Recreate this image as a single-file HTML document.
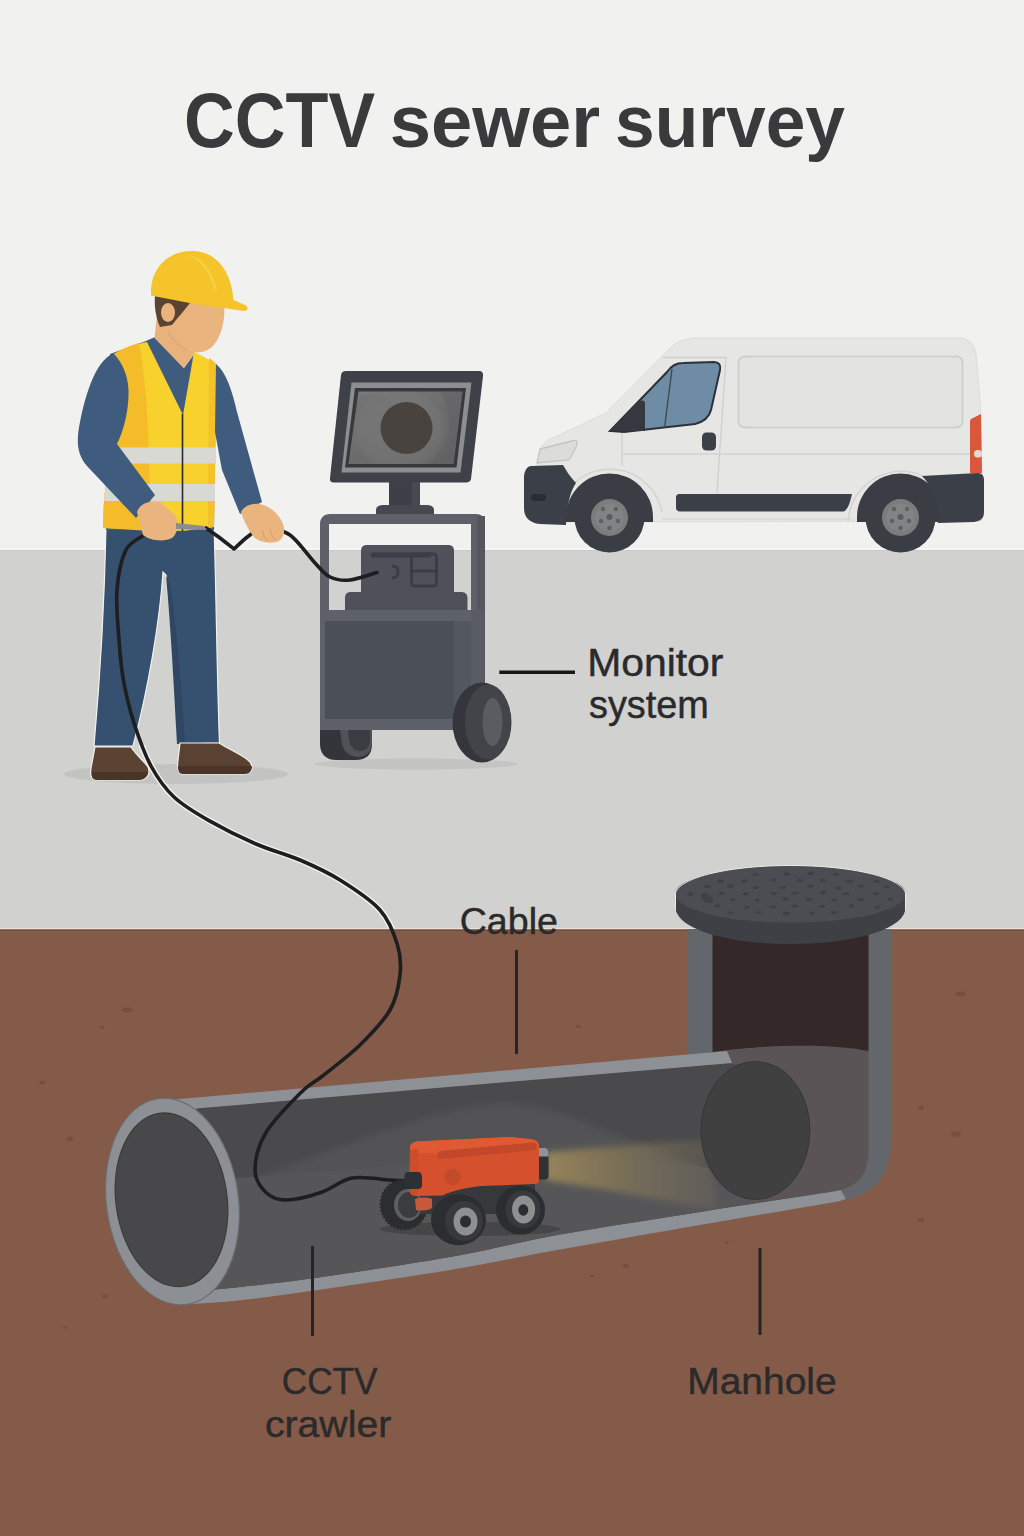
<!DOCTYPE html>
<html><head><meta charset="utf-8">
<title>CCTV sewer survey</title>
<style>
html,body{margin:0;padding:0;width:1024px;height:1536px;overflow:hidden;background:#f1f1f0;}
svg{display:block;}
text{font-family:"Liberation Sans",sans-serif;}
</style></head><body>
<svg width="1024" height="1536" viewBox="0 0 1024 1536">
<defs>
<filter id="blur4" x="-20%" y="-50%" width="140%" height="200%"><feGaussianBlur stdDeviation="4"/></filter>
<filter id="blur3" x="-20%" y="-50%" width="140%" height="200%"><feGaussianBlur stdDeviation="3"/></filter>
<linearGradient id="scr" x1="0" y1="0" x2="1" y2="1"><stop offset="0" stop-color="#7c7c7c"/><stop offset="1" stop-color="#5f5f5f"/></linearGradient>
</defs>
<!-- backgrounds -->
<rect x="0" y="0" width="1024" height="550" fill="#f1f1f0"/>
<rect x="0" y="550" width="1024" height="380" fill="#d1d1cf"/>
<rect x="0" y="929" width="1024" height="607" fill="#845a48"/>
<rect x="0" y="548.6" width="1024" height="1.2" fill="#f9f9f8"/>
<rect x="0" y="550" width="1024" height="1" fill="#c9c9c7"/>
<rect x="0" y="928.2" width="1024" height="1.3" fill="#efe4dc"/>
<rect x="0" y="929.5" width="1024" height="1.2" fill="#6f4a3b"/>

<!-- van -->
<g id="van">
<!-- body -->
<path d="M537,466 L540,451 C542,444 547,440 553,438 L606,413 L668,350 C675,342 685,338 698,338 L958,338 C969,338 974,344 976,354 L980,400 L982,474 L982,521 L541,522 C537,515 536,490 537,466 Z" fill="#e6e6e4" stroke="#dcdcda" stroke-width="1"/>
<!-- wheel arches dark -->
<path d="M566,522 L566,517 A43.5,43.5 0 0 1 653,517 L653,522 Z" fill="#3a3d44"/>
<path d="M857,522 L857,517 A43.5,43.5 0 0 1 944,517 L944,522 Z" fill="#3a3d44"/>
<!-- fender flares -->
<path d="M557,522 A53,53 0 0 1 662,512" fill="none" stroke="#d3d3d1" stroke-width="1.5"/>
<path d="M848,522 A53,53 0 0 1 948,500" fill="none" stroke="#d3d3d1" stroke-width="1.5"/>
<!-- cargo panel -->
<rect x="738.5" y="356.5" width="224" height="71" rx="6" fill="#e3e3e1" stroke="#cfcfcd" stroke-width="1.8"/>
<!-- door lines -->
<path d="M663,357.5 L726,357.5 L717,493" fill="none" stroke="#cfcfcd" stroke-width="1.3"/>
<path d="M622,432 L622,466" fill="none" stroke="#cfcfcd" stroke-width="1.3"/>
<path d="M622,454 L978,454" fill="none" stroke="#d2d2d0" stroke-width="1.3"/>
<path d="M662,519 L852,519" fill="none" stroke="#d2d2d0" stroke-width="1.2"/>
<!-- window -->
<path d="M610,431 L667,372 C671,366 676,363 683,363 L714,362 C719,362 721,365 720,370 L711,410 C709,418 703,422 695,424 L624,432 Z" fill="#6f8ca6" stroke="#2d3136" stroke-width="2"/>
<path d="M610,431 L636,404 C640,400 645,399 645,404 L645,431 Z" fill="#35383e"/>
<line x1="672" y1="369" x2="664.5" y2="428" stroke="#3c4650" stroke-width="1.3"/>
<!-- handle -->
<rect x="702" y="432.5" width="14" height="18" rx="4.5" fill="#3d4047"/>
<!-- headlight -->
<path d="M540,449 L574,440.5 C577,440 578,443 576,447 L569,460 L537,463 Z" fill="#dcdcdb" stroke="#c4c4c2" stroke-width="1.3"/>
<!-- front bumper -->
<path d="M531,466 L563,465 C566,470 570,477 576,483 C570,492 567,505 566,525 L540,524 C529,523 524,517 524,508 L524,478 C524,471 527,466 531,466 Z" fill="#3b3f47"/>
<rect x="531" y="494" width="15" height="7" rx="3.5" fill="#2a2d33"/>
<!-- rear bumper -->
<path d="M922,476 L978,473 C982,473 984,476 984,480 L984,512 C984,519 980,521 974,522 L938,523 C938,505 934,488 922,476 Z" fill="#3b3f47"/>
<!-- tail light -->
<path d="M971,419 L981,414 L982,473 L970,473 L970,424 C970,421 970,420 971,419 Z" fill="#d9573a"/>
<rect x="974" y="450" width="8" height="7.5" rx="3.5" fill="#e8d9d0"/>
<!-- rub strip -->
<path d="M680,494 L852,494 C850,503 848,509 844,511.5 L680,511.5 C677,511.5 676,510 676,507 L676,498 C676,495 677,494 680,494 Z" fill="#3b3f47"/>
<!-- wheels -->
<g>
<circle cx="609.5" cy="517.5" r="35" fill="#3a3d44"/>
<circle cx="609.5" cy="517.5" r="18.5" fill="#7b7c7e"/>
<circle cx="609.5" cy="517.5" r="14" fill="#828385"/>
<circle cx="609.5" cy="517" r="3" fill="#5a5b5d"/>
<circle cx="603" cy="509" r="2.3" fill="#5f6062"/><circle cx="616" cy="509" r="2.3" fill="#5f6062"/>
<circle cx="601" cy="521" r="2.3" fill="#5f6062"/><circle cx="618" cy="521" r="2.3" fill="#5f6062"/><circle cx="609.5" cy="528" r="2.3" fill="#5f6062"/>
</g>
<g>
<circle cx="900.5" cy="517.5" r="35" fill="#3a3d44"/>
<circle cx="900.5" cy="517.5" r="18.5" fill="#7b7c7e"/>
<circle cx="900.5" cy="517.5" r="14" fill="#828385"/>
<circle cx="900.5" cy="517" r="3" fill="#5a5b5d"/>
<circle cx="894" cy="509" r="2.3" fill="#5f6062"/><circle cx="907" cy="509" r="2.3" fill="#5f6062"/>
<circle cx="892" cy="521" r="2.3" fill="#5f6062"/><circle cx="909" cy="521" r="2.3" fill="#5f6062"/><circle cx="900.5" cy="528" r="2.3" fill="#5f6062"/>
</g>
</g>
<!-- monitor cart -->
<g id="cart">
<ellipse cx="416" cy="764" rx="102" ry="5.5" fill="#c4c4c2"/>
<!-- monitor -->
<path d="M346,371 L479,371 C482,371 483.5,373 483,376 L471,479 C470.5,481 469,482.5 466,482.5 L334,482.5 C331,482.5 329.5,481 330,478 L341,375 C341.5,372.5 343,371 346,371 Z" fill="#3e4147"/>
<path d="M351.5,382.5 L471.5,382.5 L460.5,472.5 L341.5,472.5 Z" fill="#8d8e91"/>
<path d="M355,388 L466,388 L456.5,467.5 L345,467.5 Z" fill="#38393c"/>
<path d="M358.5,391.5 L462.5,391.5 L453.5,464 L348.5,464 Z" fill="url(#scr)"/>
<path d="M362,395 C380,392 400,398 392,410 C384,420 372,430 372,462 L350,462 L358,396 Z" fill="#6a6a6a" opacity="0.35"/>
<clipPath id="scrclip"><path d="M358.5,391.5 L462.5,391.5 L453.5,464 L348.5,464 Z"/></clipPath>
<g clip-path="url(#scrclip)"><ellipse cx="400" cy="430" rx="45" ry="40" fill="#7c7c7c" opacity="0.45" filter="url(#blur3)"/>
<path d="M440,392 C452,410 452,440 446,464 L462,464 L463,392 Z" fill="#626366" opacity="0.6"/></g>
<circle cx="406.5" cy="428" r="26" fill="#48433f"/>
<!-- neck and base -->
<rect x="389" y="482" width="31" height="24" fill="#3d4046"/>
<rect x="412" y="482" width="8" height="24" fill="#474a50"/>
<path d="M376,514 L376,510 C376,506 380,505 384,505 L426,505 C430,505 434,506 434,510 L434,514 Z" fill="#45484e"/>
<!-- frame -->
<path d="M330,514 L476,514 C481,514 485,517 485,522 L485,683 L471,683 L471,524 L329,524 L329,610 L320,610 L320,524 C320,518 324,514 330,514 Z" fill="#5e6169"/>
<rect x="477" y="516" width="8" height="167" fill="#54575e"/>
<!-- device -->
<path d="M367,545 L448,545 C452,545 454,547 454,551 L454,593 L361,593 L361,551 C361,547 363,545 367,545 Z" fill="#4e5159"/>
<path d="M351,592 L461,592 C465,592 467.5,594 467.5,598 L467.5,611 L345,611 L345,598 C345,594 347,592 351,592 Z" fill="#4e5159"/>
<rect x="371" y="552.5" width="60" height="5" rx="1.5" fill="#3a3d43"/>
<rect x="411.5" y="554" width="25" height="32" rx="3" fill="none" stroke="#3a3d43" stroke-width="3"/>
<line x1="411.5" y1="571" x2="436.5" y2="571" stroke="#3a3d43" stroke-width="3"/>
<path d="M392,566 C397,566 398,568 398,572 C398,576 397,578 392,578" fill="none" stroke="#3a3d43" stroke-width="3"/>
<!-- body -->
<rect x="320" y="610" width="151" height="120" fill="#5e6169"/>
<rect x="325" y="621" width="129" height="98" fill="#4b4f57"/>
<rect x="454" y="621" width="17" height="98" fill="#53575e"/>
<rect x="471" y="610" width="13" height="75" fill="#595c64"/>
<!-- left wheel -->
<path d="M320,730 L372,730 L372,744 C372,755 366,760 356,760 L336,760 C326,760 320,754 320,744 Z" fill="#33353a"/>
<path d="M340,730 L372,730 L372,742 C372,752 366,757 358,757 C350,757 344,752 342,744 Z" fill="#4f5257"/>
<path d="M348,730 L370,730 L370,740 C370,747 366,751 360,751 C354,751 350,746 349,740 Z" fill="#3a3c41"/>
<!-- right wheel -->
<ellipse cx="482" cy="722.5" rx="29.5" ry="40" fill="#34363b"/>
<ellipse cx="488" cy="722" rx="23" ry="37.5" fill="#42444a"/>
<ellipse cx="492.5" cy="722" rx="10" ry="24" fill="#5a5c60"/>
</g>
<!-- worker -->
<g id="worker">
<ellipse cx="176" cy="774" rx="112" ry="10" fill="#c3c3c1"/>
<!-- pants -->
<path d="M106,528 L214,526 C216,580 217,680 219.5,743 L179,744 C176,690 172,630 166,575 L163,572 C160,620 148,690 133,746 L94,746 C99,690 104,620 106,528 Z" fill="#36506f" stroke="#f4f2ee" stroke-width="1.2"/>
<path d="M166,576 C171,630 174,690 177,744 L185,744 C182,690 176,620 170,585 Z" fill="#2f4763"/>
<!-- shoes -->
<path d="M95,747 L131,747 C136,755 144,761 148,767 C151,774 147,780 139,780 L97,780 C91,780 90,775 91,768 Z" fill="#5a4232" stroke="#f4f2ee" stroke-width="1.2"/>
<path d="M92,772 L148,772 C147,777 144,780 139,780 L97,780 C93,780 91,777 92,772 Z" fill="#4a3427"/>
<path d="M180,743 L219,743 C232,751 245,756 250,762 C254,768 252,773 245,774 L183,774 C178,774 177,768 178,760 Z" fill="#5a4232" stroke="#f4f2ee" stroke-width="1.2"/>
<path d="M178,766 L252,766 C252,771 249,774 245,774 L183,774 C179,774 178,771 178,766 Z" fill="#4a3427"/>
<!-- torso shirt -->
<path d="M110,354 L146,341 L155,337 L184,368 L195,353 L216,364 L214,530 L106,530 Z" fill="#3f5b7d"/>
<!-- neck -->
<path d="M157,315 L176,315 L190,338 L195,353 L183.5,368 L154.5,338 Z" fill="#e9b27c"/>
<!-- vest left panel -->
<path d="M114,354 C124,348 136,344 147,342 L183,415 L183,531 L103,528 C103,500 106,470 116,447 C119,420 119,385 114,354 Z" fill="#f8d12d"/>
<path d="M114,354 C124,348 132,345 139,343 C146,380 150,430 150,531 L103,528 C103,500 106,470 116,447 C119,420 119,385 114,354 Z" fill="#f4bc29"/>
<!-- vest right panel -->
<path d="M194,352 C203,356 210,360 217,365 L214,527 L183,531 L183,415 Z" fill="#f8d12d"/>
<path d="M209,358 C212,360 215,362 217,365 L214,527 L208,528 Z" fill="#f3c12a"/>
<!-- reflective stripes -->
<path d="M116,447.5 L216,447.5 L216,463.5 L112,463.5 Z" fill="#d8d9d3"/>
<path d="M106,484 L215,484 L215,501 L104,501 Z" fill="#d8d9d3"/>
<line x1="182.5" y1="414" x2="182.5" y2="531" stroke="#2a2a2c" stroke-width="1.6"/>
<!-- left arm -->
<path d="M112,354 C96,362 86,392 80,422 C76,442 77,454 87,466 L136,518 L155,495 L117,444 C124,430 129,410 128.5,390 C128,375 122,362 114,354 Z" fill="#3f5b7d"/>
<!-- right arm -->
<path d="M216,364 C226,372 232,390 237,412 L262,502 L240,514 L222,470 L215,432 Z" fill="#3f5b7d"/>
<!-- head -->
<path d="M172,300 L224,302 C226,320 221,338 212,347 C205,353 196,354 188,350 C180,345 176,335 172,326 Z" fill="#eab47e"/>
<path d="M155,296 L191,300 L190,303 L182,313 L176,320 L172,325 L160,327 C156,318 154,306 155,296 Z" fill="#5b4333"/>
<path d="M168,331 C172,340 178,346 187,349.5" fill="none" stroke="#d9a06c" stroke-width="1"/>
<ellipse cx="168" cy="312.5" rx="7" ry="9.5" fill="#eab47e"/>
<!-- helmet -->
<path d="M151,295 C150,268 168,251 192,251 C214,251 231,268 233.5,300 L245,305 C249,307 248,311 244,311 L192,303.5 L151,295.5 Z" fill="#f5c42a"/>
<path d="M189,255 C203,258 213,272 217,289 L214,290 C211,274 202,262 189,256 Z" fill="#f8d24a" opacity="0.8"/>
</g>
<!-- soil speckles -->
<g fill="#744c3d" opacity="0.8">
<ellipse cx="127.5" cy="1010" rx="5.5" ry="2.6"/><ellipse cx="102.5" cy="1027.5" rx="2" ry="1.5"/><ellipse cx="42.5" cy="1082.5" rx="3" ry="2"/>
<ellipse cx="70" cy="1139" rx="3.5" ry="2.5"/><ellipse cx="105" cy="1296" rx="3" ry="2"/><ellipse cx="65" cy="1327.5" rx="2" ry="1.4"/>
<ellipse cx="961" cy="994" rx="5" ry="2.6"/><ellipse cx="578.5" cy="1026.5" rx="2.5" ry="1.8"/><ellipse cx="921" cy="1107.5" rx="3" ry="2.2"/>
<ellipse cx="956" cy="1134" rx="5" ry="3"/><ellipse cx="921" cy="1220" rx="3.5" ry="2"/><ellipse cx="727" cy="1242.5" rx="2" ry="1.6"/>
<ellipse cx="626" cy="1266" rx="3" ry="2.2"/><ellipse cx="592" cy="1276" rx="2" ry="1.5"/>
</g>
<!-- manhole shaft outer walls -->
<path d="M687,929 L891,929 L891,1140 C891,1175 875,1196 838,1201 L700,1222 L687,1100 Z" fill="#63666b"/>
<!-- manhole dark interior -->
<path d="M712.5,935 L868.5,935 L868.5,1052 C840,1046 780,1043 712.5,1052 Z" fill="#352828"/>
<!-- pipe rim (light) -->
<path d="M168,1100 L727,1051 L760,1051 L846,1199 L838,1201.4 C815.0,1205.3 746.3,1217.0 700.0,1225.0 C653.7,1233.0 601.7,1242.1 560.0,1249.6 C518.3,1257.1 491.5,1263.1 450.0,1270.0 C408.5,1276.9 346.3,1285.9 311.0,1291.0 C275.7,1296.1 259.0,1298.2 238.0,1300.5 C217.0,1302.8 193.8,1303.8 185.0,1304.5 L170,1302 Z" fill="#8d9095"/>
<!-- pipe interior -->
<path d="M196,1108.5 L756,1061 L756,1200 L836,1191 C813.3,1194.5 746.0,1204.7 700.0,1212.0 C654.0,1219.3 601.7,1227.1 560.0,1234.6 C518.3,1242.1 491.5,1249.7 450.0,1257.0 C408.5,1264.3 346.0,1273.5 311.0,1278.5 C276.0,1283.5 257.7,1285.0 240.0,1287.0 C222.3,1289.0 210.8,1289.9 205.0,1290.5 Z" fill="#4a4a4c"/>
<clipPath id="pint"><path d="M196,1108.5 L756,1061 L756,1200 L836,1191 C813.3,1194.5 746.0,1204.7 700.0,1212.0 C654.0,1219.3 601.7,1227.1 560.0,1234.6 C518.3,1242.1 491.5,1249.7 450.0,1257.0 C408.5,1264.3 346.0,1273.5 311.0,1278.5 C276.0,1283.5 257.7,1285.0 240.0,1287.0 C222.3,1289.0 210.8,1289.9 205.0,1290.5 Z"/></clipPath>
<g clip-path="url(#pint)">
<!-- floor -->
<path d="M225,1186 C300,1168 410,1112 495,1104 C550,1100 600,1132 700,1166 L700,1186 Z" fill="#535355" filter="url(#blur3)"/>
<path d="M200,1181 C300,1174 420,1162 540,1158 C640,1155 700,1165 760,1178 L760,1300 L200,1300 Z" fill="#565658"/>
<defs><linearGradient id="beam" x1="545" y1="0" x2="730" y2="0" gradientUnits="userSpaceOnUse"><stop offset="0" stop-color="#ad955a" stop-opacity="0.75"/><stop offset="0.4" stop-color="#978457" stop-opacity="0.55"/><stop offset="1" stop-color="#7d7260" stop-opacity="0.2"/></linearGradient></defs>
<path d="M546,1152 C600,1148 650,1143 705,1140 L718,1210 C660,1200 600,1188 546,1180 Z" fill="url(#beam)" filter="url(#blur3)"/>
</g>
<!-- elbow interior -->
<path d="M727,1051 C780,1043 840,1045 868.5,1051 L868.5,1150 C868.5,1175 858,1187 836,1191 L756,1203 L756,1061 L733,1065 Z" fill="#5a5457"/>
<!-- far end -->
<ellipse cx="755.5" cy="1130.5" rx="54.5" ry="69" fill="#404041" stroke="#363637" stroke-width="1"/>
<!-- front ring -->
<g transform="translate(172,1200) skewX(4.6) translate(-172,-1200)">
<ellipse cx="172.3" cy="1201.5" rx="67" ry="104" fill="#6c6c6f"/>
<ellipse cx="172.3" cy="1201.5" rx="65.8" ry="102.8" fill="#8c8f94"/>
<ellipse cx="171.5" cy="1199.8" rx="56.5" ry="87.5" fill="#38383a"/>
<ellipse cx="171.5" cy="1199.8" rx="55.5" ry="86.5" fill="#48484a"/>
</g>
<!-- manhole cover -->
<path d="M675,895 L676,911 C682,931 732,944 790,944 C850,944 900,931 905,911 L906,895 Z" fill="#3e4045"/>
<ellipse cx="790.5" cy="894" rx="115.5" ry="28.5" fill="#4b4d52"/>
<path d="M675.5,910 L675.5,893 C680,877 730,865.5 790.5,865.5 C851,865.5 901,877 905.5,893 L905.5,910" fill="none" stroke="#ecebea" stroke-width="1"/>
<g fill="#3e4045" opacity="0.9">
<ellipse cx="755.1" cy="874.7" rx="2.9" ry="1.5"/><ellipse cx="787.0" cy="873.9" rx="3.4" ry="1.6"/><ellipse cx="810.8" cy="873.3" rx="3.2" ry="1.8"/><ellipse cx="836.1" cy="874.5" rx="3.3" ry="1.4"/><ellipse cx="720.3" cy="881.3" rx="3.3" ry="1.9"/><ellipse cx="744.4" cy="881.1" rx="3.0" ry="1.9"/><ellipse cx="773.3" cy="879.7" rx="2.7" ry="1.5"/><ellipse cx="799.8" cy="880.4" rx="3.2" ry="1.6"/><ellipse cx="823.0" cy="880.3" rx="3.0" ry="1.7"/><ellipse cx="849.5" cy="881.3" rx="3.3" ry="1.9"/><ellipse cx="877.1" cy="881.5" rx="3.3" ry="1.5"/><ellipse cx="707.3" cy="886.4" rx="3.4" ry="1.7"/><ellipse cx="730.7" cy="886.1" rx="3.5" ry="1.9"/><ellipse cx="755.5" cy="887.6" rx="3.0" ry="1.5"/><ellipse cx="782.8" cy="887.5" rx="3.5" ry="1.4"/><ellipse cx="810.7" cy="886.1" rx="3.3" ry="1.6"/><ellipse cx="838.3" cy="888.0" rx="3.1" ry="1.9"/><ellipse cx="860.9" cy="886.2" rx="3.2" ry="1.4"/><ellipse cx="886.2" cy="886.8" rx="3.2" ry="1.5"/><ellipse cx="690.3" cy="894.2" rx="2.9" ry="1.9"/><ellipse cx="721.4" cy="893.3" rx="3.1" ry="1.7"/><ellipse cx="745.9" cy="893.7" rx="3.2" ry="1.7"/><ellipse cx="773.6" cy="893.5" rx="3.0" ry="1.8"/><ellipse cx="795.4" cy="893.1" rx="3.6" ry="1.7"/><ellipse cx="823.3" cy="892.5" rx="3.0" ry="1.7"/><ellipse cx="846.1" cy="893.7" rx="3.2" ry="1.4"/><ellipse cx="875.8" cy="893.4" rx="3.3" ry="1.6"/><ellipse cx="707.1" cy="900.9" rx="2.9" ry="1.6"/><ellipse cx="732.6" cy="899.6" rx="3.0" ry="1.6"/><ellipse cx="757.2" cy="900.2" rx="2.9" ry="1.6"/><ellipse cx="785.6" cy="899.1" rx="3.2" ry="1.8"/><ellipse cx="808.9" cy="899.4" rx="3.4" ry="1.5"/><ellipse cx="834.1" cy="899.9" rx="3.3" ry="1.5"/><ellipse cx="860.9" cy="899.7" rx="3.4" ry="1.6"/><ellipse cx="890.1" cy="899.3" rx="2.9" ry="1.7"/><ellipse cx="717.4" cy="905.7" rx="3.1" ry="1.5"/><ellipse cx="746.8" cy="907.2" rx="2.8" ry="1.5"/><ellipse cx="772.8" cy="906.8" rx="3.4" ry="1.6"/><ellipse cx="794.8" cy="906.1" rx="3.4" ry="1.5"/><ellipse cx="822.1" cy="906.3" rx="3.0" ry="1.6"/><ellipse cx="851.5" cy="905.8" rx="2.6" ry="1.9"/><ellipse cx="877.3" cy="907.5" rx="3.0" ry="1.9"/><ellipse cx="730.7" cy="912.7" rx="2.8" ry="1.4"/><ellipse cx="758.5" cy="912.6" rx="3.4" ry="1.4"/><ellipse cx="786.4" cy="913.4" rx="3.5" ry="1.8"/><ellipse cx="812.4" cy="913.2" rx="2.6" ry="1.8"/><ellipse cx="834.0" cy="912.6" rx="3.3" ry="1.7"/>
<ellipse cx="707" cy="898" rx="4" ry="7" transform="rotate(-55 707 898)"/>
</g>
<!-- crawler shadow -->
<ellipse cx="470" cy="1229" rx="90" ry="7" fill="#464647"/>
<!-- cable -->
<g fill="none" stroke-linecap="round" stroke-linejoin="round">
<clipPath id="haloclip"><rect x="0" y="745" width="1024" height="183"/></clipPath>
<path d="M146.0,534.0 C142.7,536.7 130.8,540.7 126.0,550.0 C121.2,559.3 118.2,575.0 117.0,590.0 C115.8,605.0 117.9,625.0 119.0,640.0 C120.1,655.0 120.9,666.2 123.4,680.0 C125.9,693.8 129.4,708.7 134.0,723.0 C138.6,737.3 144.3,753.7 151.0,766.0 C157.7,778.3 164.3,787.9 174.0,797.0 C183.7,806.1 195.3,812.8 209.0,820.6 C222.7,828.4 240.8,837.4 256.0,844.0 C271.2,850.6 286.0,854.0 300.0,860.0 C314.0,866.0 326.7,871.7 340.0,880.0 C353.3,888.3 370.4,899.2 380.0,910.0 C389.6,920.8 394.2,934.2 397.5,945.0 C400.8,955.8 401.2,964.2 400.0,975.0 C398.8,985.8 396.7,998.3 390.0,1010.0 C383.3,1021.7 371.2,1034.0 360.0,1045.0 C348.8,1056.0 332.3,1068.1 322.5,1076.0 C312.7,1083.9 310.4,1083.1 301.0,1092.5 C291.6,1101.9 273.7,1119.6 266.0,1132.5 C258.3,1145.4 255.0,1160.0 255.0,1170.0 C255.0,1180.0 260.8,1187.5 266.0,1192.5 C271.2,1197.5 276.8,1200.0 286.0,1200.0 C295.2,1200.0 310.0,1196.2 321.0,1192.5 C332.0,1188.8 340.6,1180.1 352.0,1178.0 C363.4,1175.9 380.5,1179.5 389.5,1180.0 C398.5,1180.5 403.2,1180.8 406.0,1181.0" stroke="#f6f4f0" stroke-width="6.5" clip-path="url(#haloclip)" opacity="0.9"/>
<path d="M146.0,534.0 C142.7,536.7 130.8,540.7 126.0,550.0 C121.2,559.3 118.2,575.0 117.0,590.0 C115.8,605.0 117.9,625.0 119.0,640.0 C120.1,655.0 120.9,666.2 123.4,680.0 C125.9,693.8 129.4,708.7 134.0,723.0 C138.6,737.3 144.3,753.7 151.0,766.0 C157.7,778.3 164.3,787.9 174.0,797.0 C183.7,806.1 195.3,812.8 209.0,820.6 C222.7,828.4 240.8,837.4 256.0,844.0 C271.2,850.6 286.0,854.0 300.0,860.0 C314.0,866.0 326.7,871.7 340.0,880.0 C353.3,888.3 370.4,899.2 380.0,910.0 C389.6,920.8 394.2,934.2 397.5,945.0 C400.8,955.8 401.2,964.2 400.0,975.0 C398.8,985.8 396.7,998.3 390.0,1010.0 C383.3,1021.7 371.2,1034.0 360.0,1045.0 C348.8,1056.0 332.3,1068.1 322.5,1076.0 C312.7,1083.9 310.4,1083.1 301.0,1092.5 C291.6,1101.9 273.7,1119.6 266.0,1132.5 C258.3,1145.4 255.0,1160.0 255.0,1170.0 C255.0,1180.0 260.8,1187.5 266.0,1192.5 C271.2,1197.5 276.8,1200.0 286.0,1200.0 C295.2,1200.0 310.0,1196.2 321.0,1192.5 C332.0,1188.8 340.6,1180.1 352.0,1178.0 C363.4,1175.9 380.5,1179.5 389.5,1180.0 C398.5,1180.5 403.2,1180.8 406.0,1181.0" stroke="#1e1e20" stroke-width="3.6"/>
<path d="M206.0,528.0 C208.3,529.7 215.3,534.5 220.0,538.0 C224.7,541.5 231.7,547.2 234.0,549.0 C236.0,547.2 242.0,541.3 246.0,538.0 C250.0,534.7 256.0,530.5 258.0,529.0 C259.7,528.7 264.8,527.0 268.0,527.0 C271.2,527.0 273.3,527.7 277.0,529.0 C280.7,530.3 286.2,532.3 290.0,535.0 C293.8,537.7 295.8,540.3 300.0,545.0 C304.2,549.7 310.0,557.7 315.0,563.0 C320.0,568.3 324.2,574.2 330.0,577.0 C335.8,579.8 342.2,580.8 350.0,580.0 C357.8,579.2 372.5,573.8 377.0,572.5" stroke="#1e1e20" stroke-width="3.6"/>
</g>
<!-- crawler -->
<g id="crawler">
<ellipse cx="404" cy="1204.5" rx="23.5" ry="25" fill="#2c2d30" stroke="#2c2d30" stroke-width="2" stroke-dasharray="1.8 1.8"/>
<ellipse cx="408" cy="1205" rx="14" ry="16" fill="#5c5e61"/>
<ellipse cx="409" cy="1205" rx="11" ry="13" fill="#3a3c40"/>
<path d="M420,1186 L535,1181 L535,1214 L420,1214 Z" fill="#36383b"/>
<path d="M415,1199 C420,1197 428,1197 432,1199 L432,1208 C428,1211 420,1211 416,1210 Z" fill="#c45a3a"/>
<path d="M410,1148 C410,1144 413,1142 417,1141.5 L511,1137 L533,1139.5 C537,1140.5 539,1143 539,1147 L539,1181 C539,1183 537,1184 535,1184 L481,1186 C470,1187 455,1190 442,1195.5 L416,1196 C412,1196 409.5,1193 409.5,1190 Z" fill="#d5512d"/>
<path d="M410,1148 C410,1144 413,1142 417,1141.5 L511,1137 L533,1139.5 C537,1140.5 539,1143 539,1147 L539,1149 L410,1154 Z" fill="#df5a33"/>
<path d="M410,1150 L418,1149 L418,1195 L416,1196 C412,1196 409.5,1193 409.5,1190 Z" fill="#cc4d2b"/>
<path d="M440,1151 L533,1142.5 C536,1142.5 537,1144 537,1146 L536,1150 L441,1159 C439,1159 437.5,1157.5 437.5,1155.5 L438,1153 C438,1152 439,1151 440,1151 Z" fill="#c3472a"/>
<ellipse cx="452.5" cy="1177" rx="8.3" ry="8.5" fill="#c34a2b"/>
<path d="M539,1148 L545,1148 C547,1148 548.5,1150 548.5,1153 L548.5,1176 C548.5,1178 547,1179.5 545,1179.5 L539,1179.5 Z" fill="#2f3134"/>
<path d="M539,1148 L545,1148 C547,1148 548.5,1150 548.5,1153 L548.5,1156.5 L539,1156.5 Z" fill="#909397"/>
<path d="M408,1172 L418,1172 C421,1172 422,1174.5 422,1178 L422,1185 C422,1188 420,1189 417,1189 L408,1189 C405.5,1189 404.5,1187 404.5,1184 L404.5,1176 C404.5,1173.5 405.5,1172 408,1172 Z" fill="#2e3033"/>
<ellipse cx="458.5" cy="1219.7" rx="27.5" ry="25.5" fill="#2c2d30"/>
<ellipse cx="464" cy="1221" rx="19" ry="20" fill="#38393c"/>
<ellipse cx="465.5" cy="1221.5" rx="12" ry="14" fill="#8e8f91"/>
<ellipse cx="465.5" cy="1221.5" rx="5.5" ry="6" fill="#2d2d2f"/>
<ellipse cx="520.5" cy="1210" rx="24.5" ry="24.5" fill="#2c2d30"/>
<ellipse cx="523" cy="1209.5" rx="17.5" ry="19" fill="#38393c"/>
<ellipse cx="523.6" cy="1209.5" rx="11.5" ry="14" fill="#8e8f91"/>
<ellipse cx="523.3" cy="1210" rx="5" ry="5.8" fill="#2d2d2f"/>
</g>
<!-- hands -->
<path d="M137,512 C140,503 150,500 160,502 L175,515 C180,522 178,533 172,538 C165,542 150,541 143,535 Z" fill="#eab47e"/>
<path d="M241,512 C244,506 252,503 260,504 C270,506 279,514 283,524 C286,532 283,540 276,542 C268,544 258,542 253,536 C249,530 244,522 241,512 Z" fill="#eab47e"/>
<path d="M262,530 C263,535 265,539 268,541 M270,529 C271,534 273,538 276,540" fill="none" stroke="#d39a66" stroke-width="0.9"/>
<!-- plug -->
<path d="M176,523 L204,526 L207,530 L176,529 Z" fill="#8a8c90"/>


<!-- labels -->
<g fill="#2b2a2b" stroke="#2b2a2b" stroke-width="0.45">
<text x="587.2" y="676" font-size="38" textLength="136.2" lengthAdjust="spacingAndGlyphs">Monitor</text>
<text x="589" y="718" font-size="38" textLength="119.8" lengthAdjust="spacingAndGlyphs">system</text>
<text x="459.7" y="933.7" font-size="36.5" textLength="98.2" lengthAdjust="spacingAndGlyphs">Cable</text>
<text x="281.8" y="1394" font-size="37" textLength="95.8" lengthAdjust="spacingAndGlyphs">CCTV</text>
<text x="264.9" y="1437" font-size="37" textLength="126.4" lengthAdjust="spacingAndGlyphs">crawler</text>
<text x="687.2" y="1394" font-size="37" textLength="149.5" lengthAdjust="spacingAndGlyphs">Manhole</text>
</g>
<g stroke="#252424" stroke-width="3" fill="none">
<line x1="499.3" y1="672.3" x2="575" y2="672.3" stroke="#181818" stroke-width="3.4"/>
<line x1="516.5" y1="950" x2="516.5" y2="1054"/>
<line x1="312.5" y1="1246" x2="312.5" y2="1336"/>
<line x1="760" y1="1248" x2="760" y2="1335"/>
</g>
<g font-size="78" font-weight="bold" fill="#3a3a3d">
<text x="184" y="147.3" textLength="191.2" lengthAdjust="spacingAndGlyphs">CCTV</text>
<text x="389.8" y="147.3" transform="translate(0,147.3) scale(1,0.955) translate(0,-147.3)" textLength="210.2" lengthAdjust="spacingAndGlyphs">sewer</text>
<text x="615" y="147.3" transform="translate(0,147.3) scale(1,0.955) translate(0,-147.3)" textLength="230" lengthAdjust="spacingAndGlyphs">survey</text>
</g>
</svg>
</body></html>
